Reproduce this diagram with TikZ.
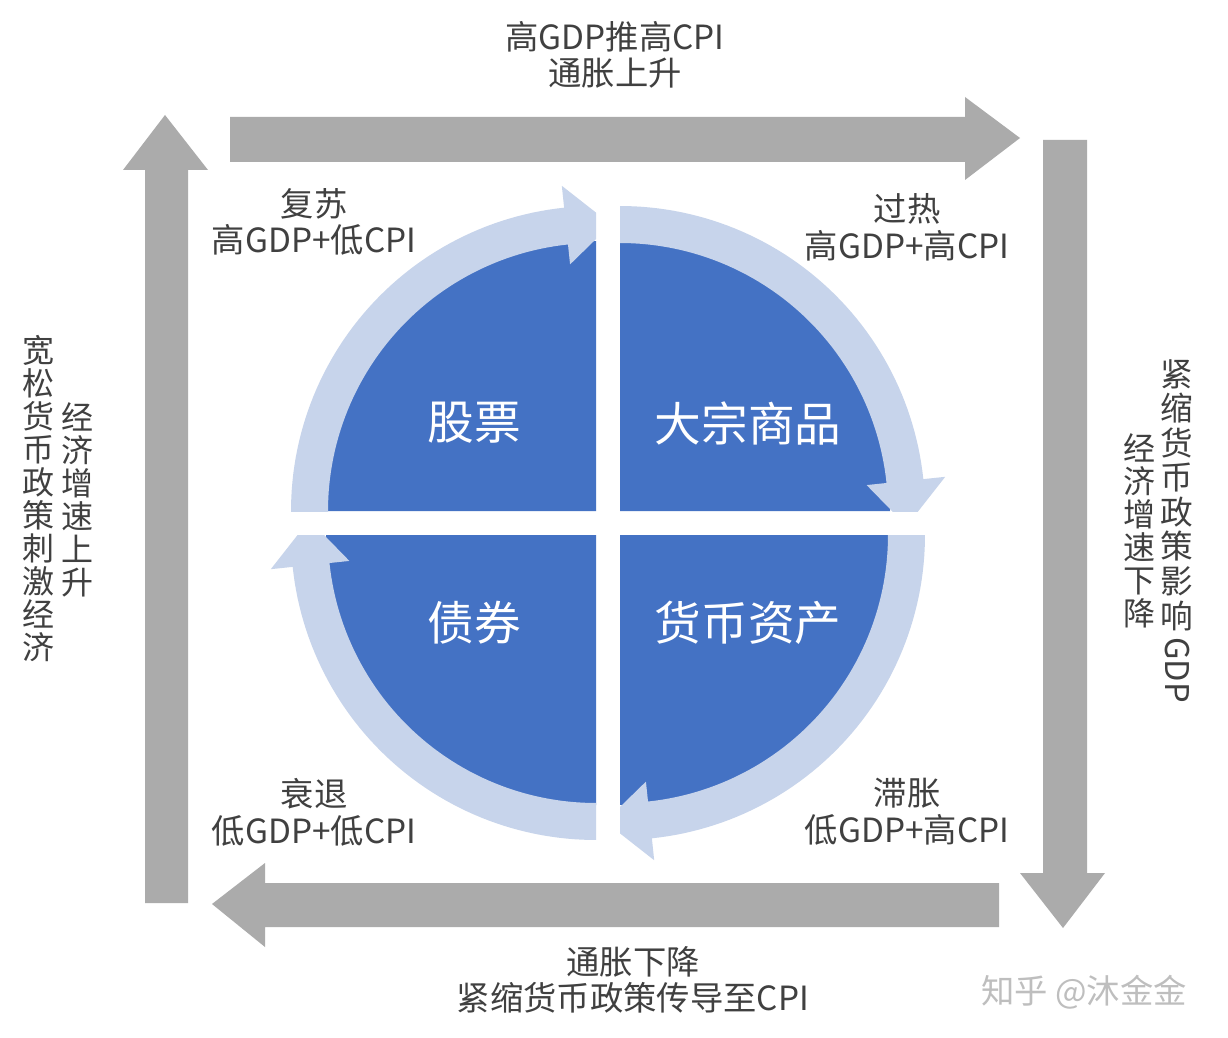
\documentclass[tikz,border=0pt]{standalone}
\usepackage{fontspec}
\setmainfont{Noto Sans CJK SC}
\definecolor{qblue}{RGB}{68,114,196}
\definecolor{ringc}{RGB}{199,212,235}
\definecolor{garrow}{RGB}{171,171,171}
\definecolor{txt}{RGB}{64,64,64}
\definecolor{wm}{RGB}{190,190,190}
\tikzset{
  lbl/.style={text=txt, align=center, font=\fontsize{25}{27.5}\selectfont, inner sep=0pt},
  vcol/.style={text=txt, align=center, font=\fontsize{24}{24.75}\selectfont, inner sep=0pt},
  vcolb/.style={text=txt, align=center, font=\fontsize{24.5}{25.9}\selectfont, inner sep=0pt},
  qlbl/.style={text=white, font=\fontsize{35}{40}\selectfont, inner sep=0pt},
  bigarrow/.style={fill=garrow, draw=none},
}
% quadrant: cx, cy, a0, a1
\newcommand{\myquad}[4]{%
  \fill[qblue] (#1,#2) -- plot[domain=#3:#4,samples=60] ({#1+270*cos(\x)},{#2+270*sin(\x)}) -- cycle;}
% ring arrow: cx, cy, a0, ab, at
\newcommand{\myring}[5]{%
  \fill[ringc] plot[domain=#3:#4,samples=60] ({#1+305*cos(\x)},{#2+305*sin(\x)})
    -- ({#1+327*cos(#4)},{#2+327*sin(#4)})
    -- ({#1+287*cos(#5)},{#2+287*sin(#5)})
    -- ({#1+248*cos(#4)},{#2+248*sin(#4)})
    -- plot[domain=#4:#3,samples=60] ({#1+268*cos(\x)},{#2+268*sin(\x)}) -- cycle;}
\begin{document}
\begin{tikzpicture}[x=0.75pt,y=-0.75pt]
\useasboundingbox (0,0) rectangle (1228,1038);
\fill[white] (0,0) rectangle (1228,1038);

% big gray arrows
\fill[bigarrow] (230,117) -- (965,117) -- (965,97) -- (1020,138) -- (965,180) -- (965,162) -- (230,162) -- cycle;
\fill[bigarrow] (1043,140) -- (1087,140) -- (1087,873) -- (1105,873) -- (1063,928) -- (1020,873) -- (1043,873) -- cycle;
\fill[bigarrow] (999,883) -- (265,883) -- (265,863) -- (212,904) -- (265,947) -- (265,927) -- (999,927) -- cycle;
\fill[bigarrow] (145,903) -- (145,170) -- (123,170) -- (165,115) -- (208,170) -- (188,170) -- (188,903) -- cycle;

% quadrants
\myquad{596}{511}{180}{270}
\myquad{620}{511}{270}{360}
\myquad{620}{535}{0}{90}
\myquad{596}{535}{90}{180}

% ring arrows (clipped at the gaps)
\begin{scope}
  \clip (0,0) rectangle (596,511);
  \myring{596}{511}{175}{264}{273}
\end{scope}
\begin{scope}
  \clip (620,0) rectangle (1228,511);
  \myring{620}{511}{265}{354}{363}
\end{scope}
\begin{scope}
  \clip (620,535) rectangle (1228,1038);
  \myring{620}{535}{-5}{84}{93}
\end{scope}
\begin{scope}
  \clip (0,535) rectangle (596,1038);
  \myring{596}{535}{85}{174}{183}
\end{scope}

% quadrant labels
\node[qlbl] (gp) at (474,423) {股票};
\node[qlbl] (dz) at (748,423) {大宗商品};
\node[qlbl] (zq) at (474,623) {债券};
\node[qlbl] (hb) at (748,623) {货币资产};

% phase labels
\node[lbl] (top) at (615,55) {高GDP推高CPI\\通胀上升};
\node[lbl] (fs) at (314,222) {复苏\\高GDP+低CPI};
\node[lbl] (gr) at (907,227) {过热\\高GDP+高CPI};
\node[lbl] (st) at (314,812) {衰退\\低GDP+低CPI};
\node[lbl] (zz) at (907,812) {滞胀\\低GDP+高CPI};
\node[lbl] (bot) at (633,980) {通胀下降\\紧缩货币政策传导至CPI};

% vertical texts
\node[vcol] (l1) at (38,498) {宽\\松\\货\\币\\政\\策\\刺\\激\\经\\济};
\node[vcol] (l2) at (77,500) {经\\济\\增\\速\\上\\升};
\node[vcolb] (r1) at (1177,495) {紧\\缩\\货\\币\\政\\策\\影\\响};
\node[text=txt, font=\fontsize{24.5}{26}\selectfont, inner sep=0pt, rotate=-90] (r1g) at (1177,670) {GDP};
\node[vcol] (r2) at (1139,531) {经\\济\\增\\速\\下\\降};

% watermark
\node[text=wm, font=\fontsize{25}{27}\selectfont, inner sep=0pt] (wmk) at (1084,992) {知乎 @沐金金};
\end{tikzpicture}
\end{document}
